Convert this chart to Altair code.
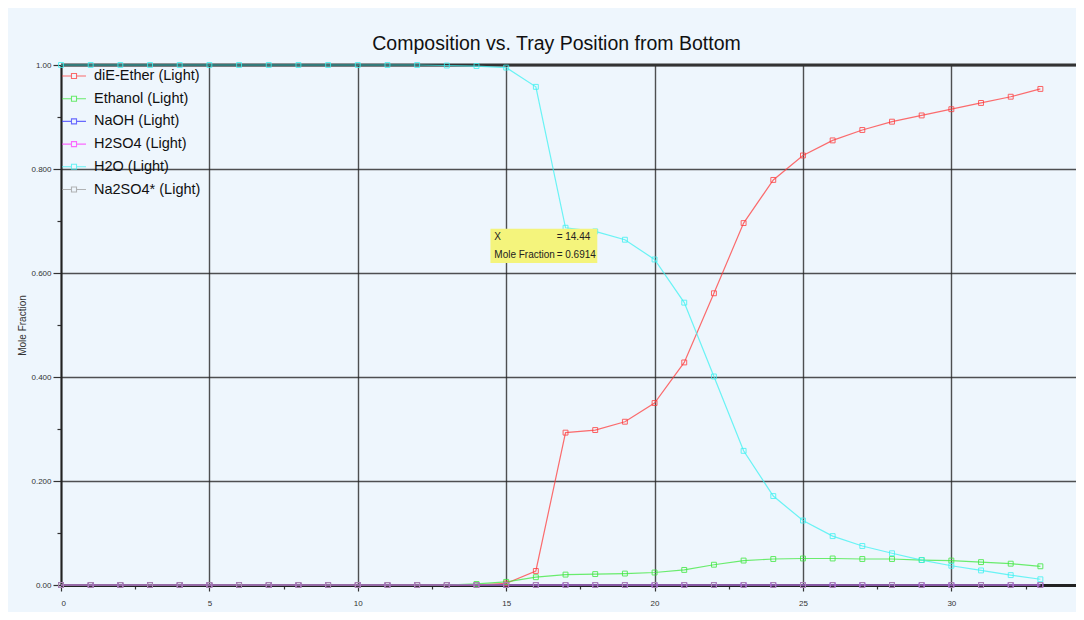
import altair as alt
import pandas as pd

# ---------------- data ----------------
stages = list(range(34))

series_names = ["diE-Ether (Light)", "Ethanol (Light)", "NaOH (Light)",
                "H2SO4 (Light)", "H2O (Light)", "Na2SO4* (Light)"]
series_colors = ["#ff3c3c", "#3ce83c", "#3a3aff", "#ff3cff", "#3cf2f2", "#9c9c9c"]

ether = [0.000, 0.000, 0.000, 0.000, 0.000, 0.000, 0.000, 0.000, 0.000, 0.000,
         0.000, 0.000, 0.000, 0.000, 0.000, 0.003, 0.027, 0.293, 0.298, 0.314,
         0.350, 0.428, 0.561, 0.696, 0.779, 0.826, 0.855, 0.875, 0.891, 0.903,
         0.915, 0.927, 0.939, 0.954]
ethanol = [0.000, 0.000, 0.000, 0.000, 0.000, 0.000, 0.000, 0.000, 0.000, 0.000,
           0.000, 0.000, 0.000, 0.000, 0.002, 0.006, 0.015, 0.020, 0.021, 0.022,
           0.024, 0.029, 0.039, 0.047, 0.050, 0.051, 0.051, 0.050, 0.050, 0.048,
           0.047, 0.044, 0.041, 0.036]
naoh = [0.0, 0.0, 0.0, 0.0, 0.0, 0.0, 0.0, 0.0, 0.0, 0.0,
        0.0, 0.0, 0.0, 0.0, 0.0, 0.0, 0.0, 0.0, 0.0, 0.0,
        0.0, 0.0, 0.0, 0.0, 0.0, 0.0, 0.0, 0.0, 0.0, 0.0,
        0.0, 0.0, 0.0, 0.0]
h2so4 = [0.0, 0.0, 0.0, 0.0, 0.0, 0.0, 0.0, 0.0, 0.0, 0.0,
         0.0, 0.0, 0.0, 0.0, 0.0, 0.0, 0.0, 0.0, 0.0, 0.0,
         0.0, 0.0, 0.0, 0.0, 0.0, 0.0, 0.0, 0.0, 0.0, 0.0,
         0.0, 0.0, 0.0, 0.0]
h2o = [1.000, 1.000, 1.000, 1.000, 1.000, 1.000, 1.000, 1.000, 1.000, 1.000,
       1.000, 1.000, 1.000, 0.999, 0.998, 0.995, 0.958, 0.687, 0.680, 0.664,
       0.626, 0.543, 0.401, 0.258, 0.171, 0.124, 0.094, 0.075, 0.061, 0.048,
       0.037, 0.028, 0.019, 0.011]
na2so4 = [0.0, 0.0, 0.0, 0.0, 0.0, 0.0, 0.0, 0.0, 0.0, 0.0,
          0.0, 0.0, 0.0, 0.0, 0.0, 0.0, 0.0, 0.0, 0.0, 0.0,
          0.0, 0.0, 0.0, 0.0, 0.0, 0.0, 0.0, 0.0, 0.0, 0.0,
          0.0, 0.0, 0.0, 0.0]

x_all_ticks = [0, 2.5, 5, 7.5, 10, 12.5, 15, 17.5, 20, 22.5, 25, 27.5, 30, 32.5]
y_all_ticks = [0.0, 0.1, 0.2, 0.3, 0.4, 0.5, 0.6, 0.7, 0.8, 0.9, 1.0]

# hover tooltip annotation (shown in the reference)
tip_box_x = [14.47]
tip_box_x2 = [18.07]
tip_box_y = [0.685]
tip_box_y2 = [0.619]
tip_labels = ["X", "= 14.44", "Mole Fraction", "= 0.6914"]
tip_label_x = [14.60, 16.70, 14.60, 16.70]
tip_label_y = [0.669, 0.669, 0.635, 0.635]

# ---------------- table ----------------
all_series = [ether, ethanol, naoh, h2so4, h2o, na2so4]
rows = []
for name, vals in zip(series_names, all_series):
    for s, v in zip(stages, vals):
        rows.append({"stage": s, "frac": v, "series": name})
df = pd.DataFrame(rows)

FONT = "Liberation Sans"
BG = "#eef6fd"

x_scale = alt.Scale(domain=[0, 34.2], nice=False, zero=False)
y_scale = alt.Scale(domain=[0, 1], nice=False)

x_axis = alt.Axis(
    values=x_all_ticks, title=None,
    labelExpr="datum.value % 5 === 0 ? datum.label : ''",
    labelFont=FONT, labelFontSize=8, labelColor="#333", labelPadding=8,
    grid=True, gridColor="#262626", gridWidth=1.4,
    gridOpacity={"condition": {"test": "datum.value % 5 === 0", "value": 0.8}, "value": 0},
    tickColor="#333", tickWidth=1.2,
    tickSize={"condition": {"test": "datum.value % 5 === 0", "value": 6}, "value": 4},
    domainColor="#222", domainWidth=3,
)
y_axis = alt.Axis(
    values=y_all_ticks, title="Mole Fraction",
    labelExpr="round(datum.value*10) % 2 === 0 ? (datum.value === 0 ? '0.00' : (datum.value === 1 ? '1.00' : format(datum.value, '.3f'))) : ''",
    labelFont=FONT, labelFontSize=8, labelColor="#333", labelPadding=2,
    grid=True, gridColor="#262626", gridWidth=1.4,
    gridOpacity={"condition": {"test": "round(datum.value*10) % 2 === 0", "value": 0.8}, "value": 0},
    tickColor="#333", tickWidth=1.2,
    tickSize={"condition": {"test": "round(datum.value*10) % 2 === 0", "value": 8}, "value": 4},
    domainColor="#222", domainWidth=2,
    titleFont=FONT, titleFontSize=10, titleFontWeight="normal", titleColor="#333",
    titlePadding=3,
)

legend_symbol = "M-1.33,0L-0.28,0M-0.28,-0.28L0.28,-0.28L0.28,0.28L-0.28,0.28ZM0.28,0L1.33,0"

color_enc = alt.Color(
    "series:N",
    scale=alt.Scale(domain=series_names, range=series_colors),
    sort=series_names,
    legend=alt.Legend(
        orient="none", legendX=3, legendY=1, title=None, padding=0,
        symbolType=legend_symbol, symbolSize=324, symbolStrokeWidth=1.1,
        symbolFillColor="transparent",
        labelFont=FONT, labelFontSize=14.5, labelColor="#111", labelOffset=10,
        rowPadding=5.7,
    ),
)

base = alt.Chart(df)

lines = base.mark_line(strokeWidth=1.2, opacity=0.75).encode(
    x=alt.X("stage:Q", scale=x_scale, axis=x_axis),
    y=alt.Y("frac:Q", scale=y_scale, axis=y_axis),
    color=color_enc,
    detail="series:N",
)

points = base.mark_point(shape="square", size=24, filled=False, strokeWidth=1, opacity=0.8).encode(
    x=alt.X("stage:Q"),
    y=alt.Y("frac:Q"),
    color=alt.Color("series:N", legend=None),
)

top_df = pd.DataFrame({"y": [1.0]})
top_border = alt.Chart(top_df).mark_rule(color="#333", strokeWidth=3).encode(
    y=alt.Y("y:Q")
)

box_df = pd.DataFrame({"x": tip_box_x, "x2": tip_box_x2, "y": tip_box_y, "y2": tip_box_y2})
tip_box = alt.Chart(box_df).mark_rect(fill="#f4f47c", opacity=1).encode(
    x="x:Q", x2="x2:Q", y="y:Q", y2="y2:Q"
)
lab_df = pd.DataFrame({"x": tip_label_x, "y": tip_label_y, "t": tip_labels})
tip_text = alt.Chart(lab_df).mark_text(
    align="left", baseline="middle", font=FONT, fontSize=10, color="#222"
).encode(x="x:Q", y="y:Q", text="t:N")

chart = alt.layer(top_border, lines, points, tip_box, tip_text).properties(
    width=1015, height=520,
    title=alt.TitleParams(
        "Composition vs. Tray Position from Bottom",
        font=FONT, fontSize=19.5, fontWeight="normal", color="#111",
        anchor="middle", dx=-12, offset=6,
    ),
    autosize=alt.AutoSizeParams(type="none"),
    padding={"left": 53, "top": 57, "right": 0, "bottom": 27},
    background=BG,
).configure_view(stroke=None, fill=BG)

chart.save("out.html", embed_options={"renderer": "svg", "actions": False})
